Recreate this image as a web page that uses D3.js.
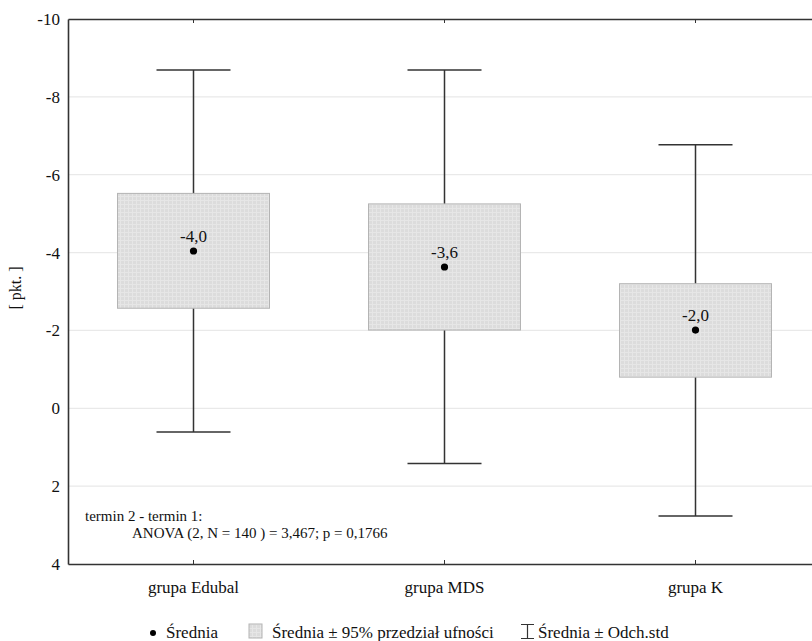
<!DOCTYPE html>
<html>
<head>
<meta charset="utf-8">
<script src="https://cdn.jsdelivr.net/npm/d3@7"></script>
<style>
  body { margin: 0; background: #fff; }
  svg { display: block; }
  svg text { font-family: "Liberation Serif", Tinos, "Times New Roman", "DejaVu Serif", serif; }
</style>
</head>
<body>
<div id="chart"></div>
<script>
// values
const groups = ['grupa Edubal', 'grupa MDS', 'grupa K'];
const means = [-4.04, -3.63, -2.01];
const meanLabels = ['-4,0', '-3,6', '-2,0'];
const ciLow = [-5.52, -5.25, -3.2];
const ciHigh = [-2.57, -2.01, -0.8];
const sdLow = [-8.69, -8.69, -6.77];
const sdHigh = [0.61, 1.42, 2.77];
const yTicks = [-10, -8, -6, -4, -2, 0, 2, 4];

const width = 812, height = 641;
const margin = { top: 19, left: 68, bottom: 77 };

const svg = d3.select('#chart').append('svg')
  .attr('width', width)
  .attr('height', height);

// box texture
const pat = svg.append('defs').append('pattern')
  .attr('id', 'grain')
  .attr('width', 4).attr('height', 4)
  .attr('patternUnits', 'userSpaceOnUse');
pat.append('rect').attr('width', 4).attr('height', 4).attr('fill', '#dcdcdc');
pat.append('path').attr('d', 'M0,0.5H4M0.5,0V4').attr('stroke', '#e6e6e6').attr('stroke-width', 1);

const x = d3.scaleBand().domain(groups).range([margin.left, 821]);
const y = d3.scaleLinear().domain([-10, 4]).range([margin.top, height - margin.bottom]);

const data = groups.map((g, i) => ({
  g, mean: means[i], label: meanLabels[i],
  ciLow: ciLow[i], ciHigh: ciHigh[i], sdLow: sdLow[i], sdHigh: sdHigh[i]
}));

// grid lines
svg.append('g')
  .selectAll('line')
  .data(yTicks.slice(1, -1))
  .enter().append('line')
  .attr('x1', margin.left).attr('x2', width)
  .attr('y1', d => y(d)).attr('y2', d => y(d))
  .attr('stroke', '#e9e9e9')
  .attr('stroke-width', 1.2);

// y axis
const yAxis = svg.append('g')
  .attr('transform', `translate(${margin.left},0)`)
  .call(d3.axisLeft(y).tickValues(yTicks).tickFormat(d => String(d)).tickSize(0).tickPadding(8));
yAxis.select('.domain').attr('stroke', '#333').attr('stroke-width', 1.6);
yAxis.selectAll('text')
  .attr('font-size', 17)
  .attr('fill', '#111');

// top and bottom axes
const xAxisBottom = svg.append('g')
  .attr('transform', `translate(0,${y(4)})`)
  .call(d3.axisBottom(x).tickSize(-4).tickSizeOuter(0).tickPadding(17));
xAxisBottom.select('.domain').attr('stroke', '#333').attr('stroke-width', 1.6);
xAxisBottom.selectAll('.tick line').attr('stroke', '#333');
xAxisBottom.selectAll('text')
  .attr('font-size', 17)
  .attr('fill', '#111');

const xAxisTop = svg.append('g')
  .attr('transform', `translate(0,${y(-10)})`)
  .call(d3.axisTop(x).tickSize(-4).tickSizeOuter(0).tickFormat(''));
xAxisTop.select('.domain').attr('stroke', '#333').attr('stroke-width', 1.6);
xAxisTop.selectAll('.tick line').attr('stroke', '#333');

// whiskers
const cx = d => x(d.g) + x.bandwidth() / 2;
const capHalf = 37, boxHalf = 76;
const w = svg.append('g').attr('stroke', '#333').attr('stroke-width', 1.5);
w.selectAll('.stem').data(data).enter().append('line')
  .attr('x1', cx).attr('x2', cx)
  .attr('y1', d => y(d.sdLow)).attr('y2', d => y(d.sdHigh));
w.selectAll('.capLow').data(data).enter().append('line')
  .attr('x1', d => cx(d) - capHalf).attr('x2', d => cx(d) + capHalf)
  .attr('y1', d => y(d.sdLow)).attr('y2', d => y(d.sdLow));
w.selectAll('.capHigh').data(data).enter().append('line')
  .attr('x1', d => cx(d) - capHalf).attr('x2', d => cx(d) + capHalf)
  .attr('y1', d => y(d.sdHigh)).attr('y2', d => y(d.sdHigh));

// confidence boxes
svg.selectAll('.box').data(data).enter().append('rect')
  .attr('x', d => cx(d) - boxHalf)
  .attr('width', boxHalf * 2)
  .attr('y', d => y(d.ciLow))
  .attr('height', d => y(d.ciHigh) - y(d.ciLow))
  .attr('fill', 'url(#grain)')
  .attr('stroke', '#b4b4b4')
  .attr('stroke-width', 1);

// means
svg.selectAll('.dot').data(data).enter().append('circle')
  .attr('cx', cx).attr('cy', d => y(d.mean))
  .attr('r', 3.6).attr('fill', '#000');
svg.selectAll('.mlabel').data(data).enter().append('text')
  .attr('x', cx).attr('y', d => y(d.mean) - 9)
  .attr('text-anchor', 'middle')
  .attr('font-size', 17)
  .attr('fill', '#111')
  .text(d => d.label);

// y label
svg.append('text')
  .attr('transform', `translate(21,288) rotate(-90)`)
  .attr('text-anchor', 'middle')
  .attr('font-size', 16)
  .attr('fill', '#111')
  .text('[ pkt. ]');

// annotation
svg.append('text').attr('x', 85).attr('y', 521)
  .attr('font-size', 15).attr('fill', '#111')
  .text('termin 2 - termin 1:');
svg.append('text').attr('x', 132).attr('y', 538)
  .attr('font-size', 15).attr('fill', '#111')
  .text('ANOVA (2, N = 140 ) = 3,467; p = 0,1766');

// legend
const lg = svg.append('g').attr('font-size', 17).attr('fill', '#111');
lg.append('circle').attr('cx', 153).attr('cy', 633).attr('r', 3).attr('fill', '#000');
lg.append('text').attr('x', 166).attr('y', 638).text('Średnia');
lg.append('rect').attr('x', 249).attr('y', 624).attr('width', 13).attr('height', 14)
  .attr('fill', 'url(#grain)').attr('stroke', '#b4b4b4');
lg.append('text').attr('x', 272).attr('y', 638).text('Średnia ± 95% przedział ufności');
lg.append('path')
  .attr('d', 'M521,624.5H534M527.5,624.5V638.5M521,638.5H534')
  .attr('stroke', '#333').attr('stroke-width', 1.2).attr('fill', 'none');
lg.append('text').attr('x', 538).attr('y', 638).text('Średnia ± Odch.std');
</script>
</body>
</html>
